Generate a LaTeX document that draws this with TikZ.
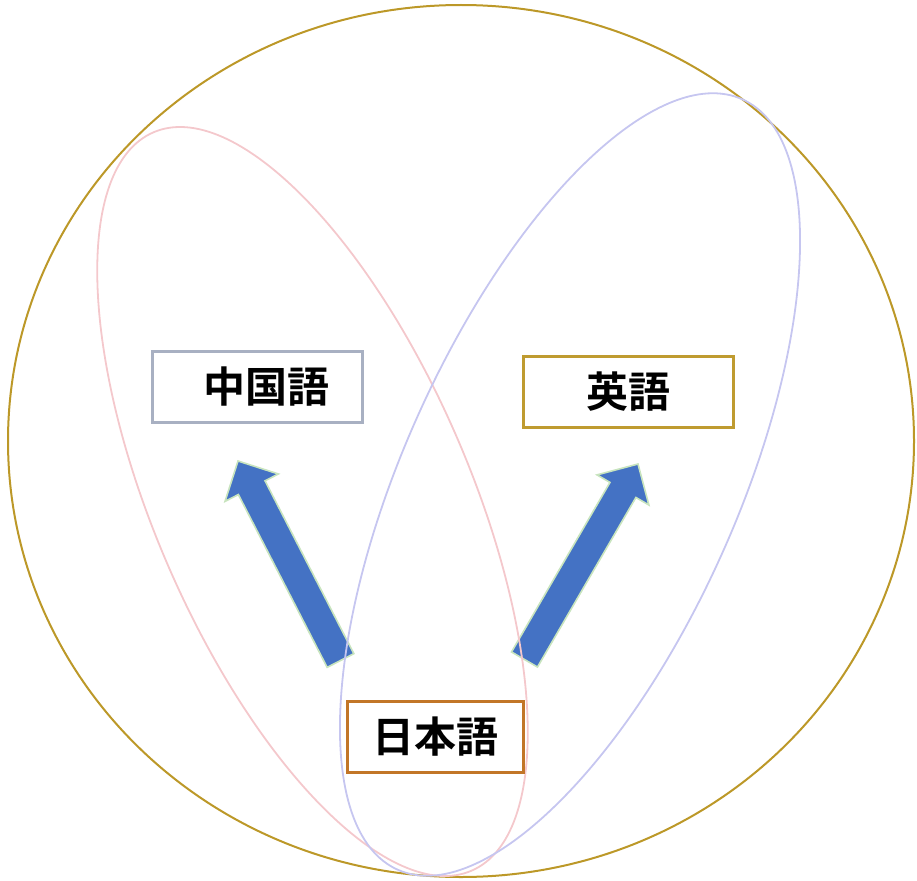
\documentclass[tikz,border=0pt]{standalone}
\usepackage{fontspec}
\newfontfamily\cjk{Noto Sans CJK JP}[BoldFont={Noto Sans CJK JP Bold}]
\usetikzlibrary{calc}
\definecolor{outerc}{RGB}{188,152,40}
\definecolor{pinkc}{RGB}{244,200,204}
\definecolor{bluec}{RGB}{198,198,240}
\definecolor{zhc}{RGB}{168,176,194}
\definecolor{enc}{RGB}{191,155,48}
\definecolor{jac}{RGB}{194,118,40}
\definecolor{arrfill}{RGB}{68,114,196}
\definecolor{arredge}{RGB}{200,228,190}
\tikzset{
  langbox/.style={draw, line width=3pt, fill=white, minimum width=#1, minimum height=71pt, inner sep=0pt, font=\cjk\bfseries\fontsize{42}{46}\selectfont},
  blockarr/.style={fill=arrfill, draw=arredge, line width=1.6pt, line join=miter},
  outerring/.style={draw=outerc, line width=2pt},
  setpink/.style={draw=pinkc, line width=1.8pt},
  setblue/.style={draw=bluec, line width=1.8pt},
}
\begin{document}
\begin{tikzpicture}[x=1pt,y=-1pt]
\useasboundingbox (0,0) rectangle (917,880);
% outer ring
\coordinate (oc) at (461,441);
\draw[outerring] (oc) ellipse [x radius=453pt, y radius=436pt];
% arrow coordinates
\coordinate (lt) at (340.5,660.5);
\coordinate (lp) at (238,461);
\coordinate (rt) at (524.5,659.5);
\coordinate (rp) at (638,464);
\coordinate (lb) at ($(lp)!30pt!(lt)$);
\coordinate (rb) at ($(rp)!30pt!(rt)$);
\filldraw[blockarr] ($(lt)!15pt!90:(lp)$) -- ($(lb)!15pt!-90:(lt)$) -- ($(lb)!30pt!-90:(lt)$) -- (lp) -- ($(lb)!30pt!90:(lt)$) -- ($(lb)!15pt!90:(lt)$) -- ($(lt)!15pt!-90:(lp)$) -- cycle;
\filldraw[blockarr] ($(rt)!15pt!90:(rp)$) -- ($(rb)!15pt!-90:(rt)$) -- ($(rb)!30pt!-90:(rt)$) -- (rp) -- ($(rb)!30pt!90:(rt)$) -- ($(rb)!15pt!90:(rt)$) -- ($(rt)!15pt!-90:(rp)$) -- cycle;
% ellipses
\coordinate (pc) at (312.5,501.5);
\coordinate (bc) at (570,484.5);
\draw[setpink, rotate around={113.3:(pc)}] (pc) ellipse [x radius=402pt, y radius=158pt];
\draw[setblue, rotate around={65.9:(bc)}] (bc) ellipse [x radius=422pt, y radius=167pt];
% boxes
\node[langbox=210pt, draw=zhc] (zh) at (257,386.5) {\hspace*{18pt}中国語};
\node[langbox=210pt, draw=enc] (en) at (628,391.5) {英語};
\node[langbox=176pt, draw=jac] (ja) at (435,736.5) {日本語};
\end{tikzpicture}
\end{document}
